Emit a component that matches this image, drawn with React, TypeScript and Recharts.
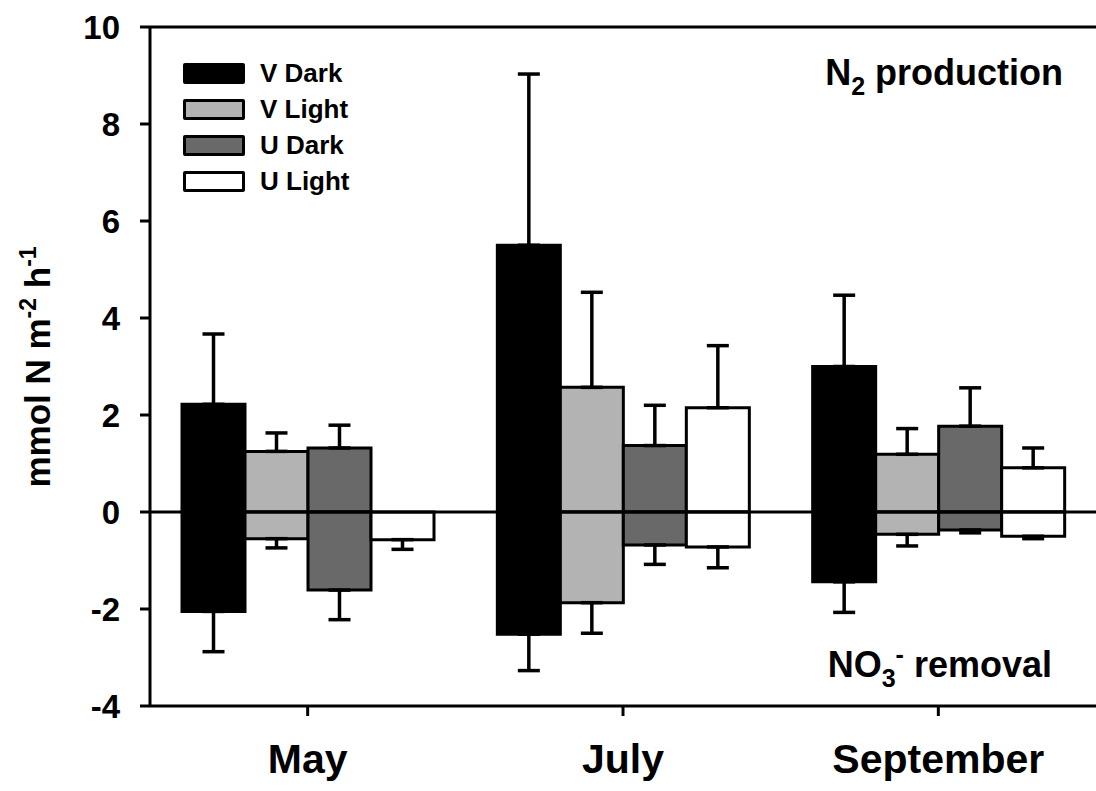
import React from 'react';
import {
  BarChart,
  Bar,
  XAxis,
  YAxis,
  ErrorBar,
  ReferenceLine,
  Legend,
  Customized,
} from 'recharts';

const MONTHS = ['May', 'July', 'September'];
const Y_TICKS = [-4, -2, 0, 2, 4, 6, 8, 10];

// N2 production (positive part) and its SE
const V_DARK_N2 = [2.22, 5.5, 3.0];
const V_DARK_N2_SE = [1.45, 3.53, 1.47];
const V_LIGHT_N2 = [1.25, 2.57, 1.19];
const V_LIGHT_N2_SE = [0.38, 1.96, 0.53];
const U_DARK_N2 = [1.32, 1.37, 1.77];
const U_DARK_N2_SE = [0.47, 0.83, 0.79];
const U_LIGHT_N2 = [null, 2.15, 0.91];
const U_LIGHT_N2_SE = [null, 1.28, 0.41];

// NO3- removal (negative part) and its SE
const V_DARK_NO3 = [-2.05, -2.52, -1.44];
const V_DARK_NO3_SE = [0.83, 0.75, 0.63];
const V_LIGHT_NO3 = [-0.55, -1.87, -0.46];
const V_LIGHT_NO3_SE = [0.19, 0.63, 0.24];
const U_DARK_NO3 = [-1.61, -0.68, -0.37];
const U_DARK_NO3_SE = [0.61, 0.4, 0.06];
const U_LIGHT_NO3 = [-0.57, -0.72, -0.5];
const U_LIGHT_NO3_SE = [0.2, 0.43, 0.05];

const FONT = '"Liberation Sans", Arial, sans-serif';

const SERIES = [
  { key: 'vd', name: 'V Dark', fill: '#000000', n2: V_DARK_N2, n2se: V_DARK_N2_SE, no3: V_DARK_NO3, no3se: V_DARK_NO3_SE },
  { key: 'vl', name: 'V Light', fill: '#b3b3b3', n2: V_LIGHT_N2, n2se: V_LIGHT_N2_SE, no3: V_LIGHT_NO3, no3se: V_LIGHT_NO3_SE },
  { key: 'ud', name: 'U Dark', fill: '#696969', n2: U_DARK_N2, n2se: U_DARK_N2_SE, no3: U_DARK_NO3, no3se: U_DARK_NO3_SE },
  { key: 'ul', name: 'U Light', fill: '#ffffff', n2: U_LIGHT_N2, n2se: U_LIGHT_N2_SE, no3: U_LIGHT_NO3, no3se: U_LIGHT_NO3_SE },
];
const SERIES_NAMES = SERIES.map(s => s.name);

const data = MONTHS.map((month, i) => {
  const row: Record<string, any> = { month };
  SERIES.forEach(s => {
    row[`${s.key}Pos`] = s.n2[i];
    row[`${s.key}PosErr`] = s.n2se[i] == null ? null : [0, s.n2se[i]];
    row[`${s.key}Neg`] = s.no3[i];
    row[`${s.key}NegErr`] = [s.no3se[i], 0];
  });
  return row;
});

const renderLegend = (props: any) => {
  const items = (props.payload || [])
    .filter((p: any) => SERIES_NAMES.includes(p.value))
    .sort((a: any, b: any) => SERIES_NAMES.indexOf(a.value) - SERIES_NAMES.indexOf(b.value));
  return (
    <div style={{ display: 'flex', flexDirection: 'column' }}>
      {items.map((p: any) => (
        <div key={p.value} style={{ display: 'flex', alignItems: 'center', height: 36 }}>
          <span
            style={{
              display: 'inline-block',
              width: 56,
              height: 15,
              background: p.color,
              border: '3px solid #000',
              borderRadius: 2,
            }}
          />
          <span style={{ marginLeft: 15, fontFamily: FONT, fontWeight: 'bold', fontSize: 26, color: '#000' }}>
            {p.value}
          </span>
        </div>
      ))}
    </div>
  );
};

const Annotations = () => (
  <g fontFamily={FONT} fontWeight="bold" fill="#000">
    <text x={50} y={367} fontSize={35} textAnchor="middle" transform="rotate(-90, 50, 367)">
      mmol N m
      <tspan dy={-14} fontSize={23}>-2</tspan>
      <tspan dy={14}> h</tspan>
      <tspan dy={-14} fontSize={23}>-1</tspan>
    </text>
    <text x={1063} y={85} fontSize={36} textAnchor="end">
      N<tspan dy={10} fontSize={25}>2</tspan>
      <tspan dy={-10}> production</tspan>
    </text>
    <text x={1052} y={677} fontSize={36} textAnchor="end">
      NO<tspan dy={10} fontSize={25}>3</tspan>
      <tspan dy={-24} fontSize={25}>-</tspan>
      <tspan dy={14}> removal</tspan>
    </text>
  </g>
);

export default function App() {
  return (
    <div style={{ position: 'absolute', left: 0, top: 0, width: 1096, height: 791, background: '#fff' }}>
      <BarChart
        width={1096}
        height={791}
        data={data}
        margin={{ top: 27, right: 0, bottom: 0, left: 0 }}
        stackOffset="sign"
        barCategoryGap={32}
        barGap={0}
      >
        <XAxis
          dataKey="month"
          height={85}
          axisLine={{ stroke: '#000', strokeWidth: 3 }}
          tickLine={{ stroke: '#000', strokeWidth: 3 }}
          tickSize={10}
          tickMargin={28}
          tick={{ fill: '#000', fontSize: 41, fontWeight: 'bold', fontFamily: FONT }}
        />
        <YAxis
          width={150}
          domain={[-4, 10]}
          ticks={Y_TICKS}
          interval={0}
          allowDataOverflow
          axisLine={{ stroke: '#000', strokeWidth: 3 }}
          tickLine={{ stroke: '#000', strokeWidth: 3 }}
          tickSize={10}
          tickMargin={20}
          tick={{ fill: '#000', fontSize: 33, fontWeight: 'bold', fontFamily: FONT }}
        />
        <Legend
          layout="vertical"
          align="center"
          verticalAlign="middle"
          content={renderLegend}
          wrapperStyle={{ position: 'absolute', left: 183, top: 55, width: 'auto' }}
        />
        {SERIES.flatMap(s => [
          <Bar
            key={`${s.key}Pos`}
            dataKey={`${s.key}Pos`}
            name={s.name}
            stackId={s.key}
            fill={s.fill}
            stroke="#000"
            strokeWidth={3}
            isAnimationActive={false}
          >
            <ErrorBar dataKey={`${s.key}PosErr`} direction="y" width={11} stroke="#000" strokeWidth={3.5} />
          </Bar>,
          <Bar
            key={`${s.key}Neg`}
            dataKey={`${s.key}Neg`}
            name={`${s.name} NO3`}
            legendType="none"
            stackId={s.key}
            fill={s.fill}
            stroke="#000"
            strokeWidth={3}
            isAnimationActive={false}
          >
            <ErrorBar dataKey={`${s.key}NegErr`} direction="y" width={11} stroke="#000" strokeWidth={3.5} />
          </Bar>,
        ])}
        <ReferenceLine y={0} stroke="#000" strokeWidth={3} />
        <ReferenceLine y={10} stroke="#000" strokeWidth={3} />
        <Customized component={Annotations} />
      </BarChart>
    </div>
  );
}
